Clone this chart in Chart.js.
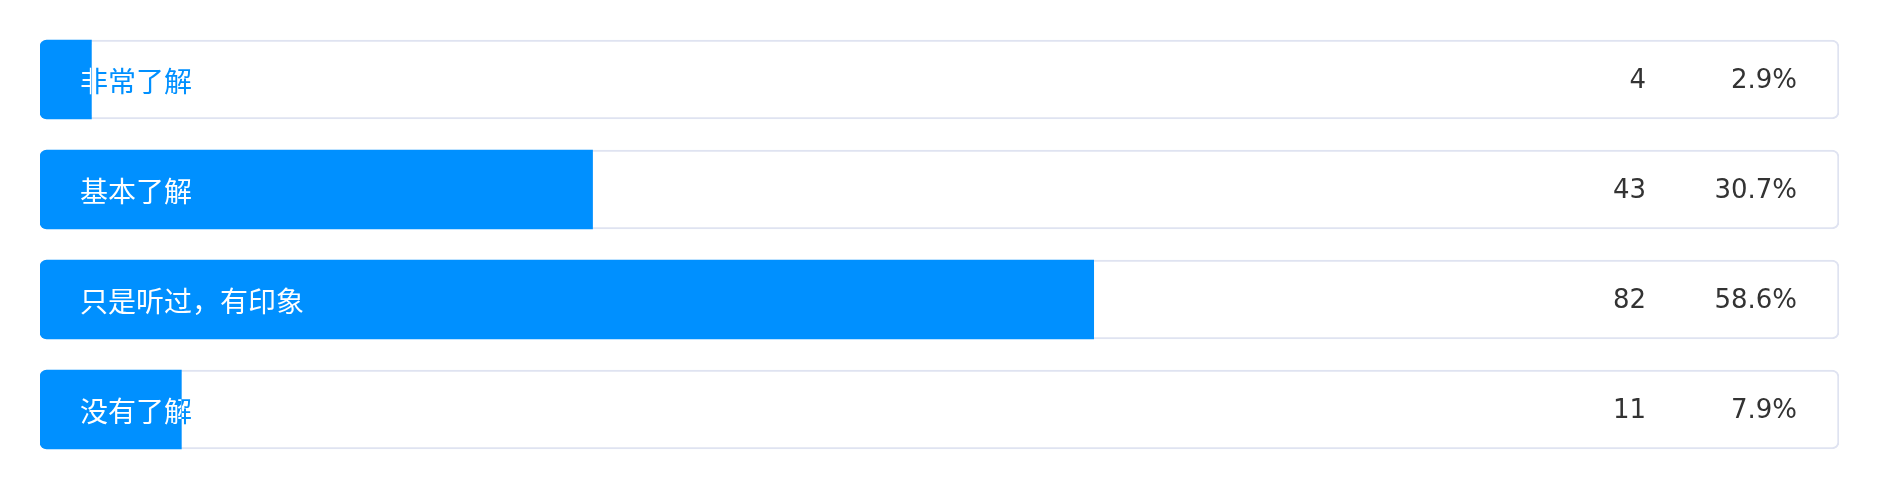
<!DOCTYPE html>
<html>
<head>
<meta charset="utf-8">
<script src="https://cdn.jsdelivr.net/npm/chart.js@4"></script>
<style>
  html, body { margin: 0; padding: 0; background: #fff; }
  #wrap { width: 1880px; height: 490px; }
</style>
</head>
<body>
<div id="wrap"><canvas id="surveyChart"></canvas></div>
<script>
const categories = ["非常了解", "基本了解", "只是听过，有印象", "没有了解"];
const counts = [4, 43, 82, 11];
const percentLabels = ["2.9%", "30.7%", "58.6%", "7.9%"];

const total = counts.reduce((a, b) => a + b, 0);
const blue = "#0090ff";

// labels over the bars: blue on white, white where the bar covers them
const rowText = {
    id: "rowText",
    afterDatasetsDraw(chart) {
        const ctx = chart.ctx;
        const bars = chart.getDatasetMeta(1).data;
        bars.forEach((bar, i) => {
            const y = bar.y;
            const h = bar.height;
            const left = bar.base;
            ctx.save();
            ctx.textBaseline = "middle";
            ctx.font = "28px 'Noto Sans CJK SC'";
            ctx.textAlign = "left";
            ctx.fillStyle = blue;
            ctx.fillText(categories[i], 80, y + 2);
            ctx.beginPath();
            ctx.rect(left, y - h / 2, bar.x - left, h);
            ctx.clip();
            ctx.fillStyle = "#ffffff";
            ctx.fillText(categories[i], 80, y + 2);
            ctx.restore();

            ctx.save();
            ctx.textBaseline = "middle";
            ctx.font = "26px 'DejaVu Sans'";
            ctx.fillStyle = "#333333";
            ctx.textAlign = "right";
            ctx.fillText(String(counts[i]), 1646, y + 2);
            ctx.fillText(percentLabels[i], 1797, y + 2);
            ctx.restore();
        });
    }
};

const ctx = document.getElementById("surveyChart").getContext("2d");
new Chart(ctx, {
    type: "bar",
    data: {
        labels: categories,
        datasets: [{
            label: "track",
            data: counts.map(() => total),
            backgroundColor: "#ffffff",
            borderColor: "#dfe3f1",
            borderWidth: 2,
            borderRadius: 7,
            borderSkipped: false,
            grouped: false,
            order: 2
        }, {
            label: "count",
            data: counts,
            backgroundColor: blue,
            borderWidth: 0,
            borderRadius: { topLeft: 7, bottomLeft: 7, topRight: 0, bottomRight: 0 },
            borderSkipped: false,
            grouped: false,
            order: 1
        }]
    },
    options: {
        indexAxis: "y",
        responsive: true,
        maintainAspectRatio: false,
        animation: false,
        barThickness: 79,
        layout: { padding: { left: 40, right: 41, top: 24.5, bottom: 25.5 } },
        scales: {
            x: { display: false, min: 0, max: total },
            y: { display: false }
        },
        plugins: {
            legend: { display: false },
            tooltip: { enabled: false }
        }
    },
    plugins: [rowText]
});
</script>
</body>
</html>
